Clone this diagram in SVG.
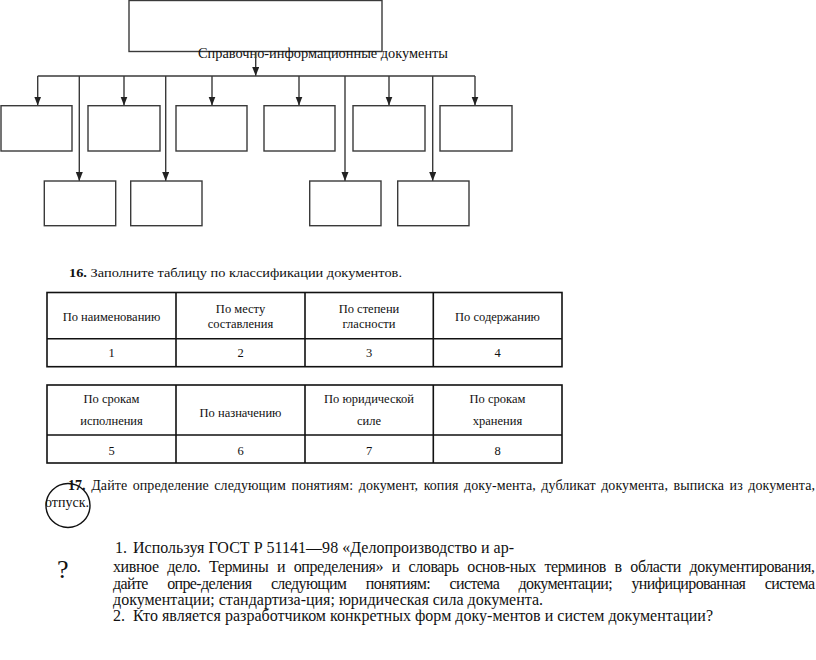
<svg xmlns="http://www.w3.org/2000/svg" width="816" height="660" viewBox="0 0 816 660">
<style>
.bx{fill:none;stroke:#3a3a3a;stroke-width:1.4}
.ln{fill:none;stroke:#3a3a3a;stroke-width:1.4}
.tb{fill:none;stroke:#111;stroke-width:1.6}
.t{font-family:"Liberation Serif","Times New Roman",serif;fill:#111}
.c{font-size:12.5px;text-anchor:middle}
</style>
<defs>
<marker id="ar" markerUnits="userSpaceOnUse" markerWidth="9" markerHeight="8" refX="9" refY="3.5" orient="auto">
<path d="M0,0 L9,3.5 L0,7 z" fill="#222"/>
</marker>
</defs>
<rect width="816" height="660" fill="#fff"/>
<g id="root">
<rect class="bx" x="129" y="0.5" width="253" height="51"/>
<text class="t" x="198" y="58" font-size="14.5" textLength="250" lengthAdjust="spacingAndGlyphs">Справочно-информационные документы</text>
</g>
<g id="connectors">
<path class="ln" d="M255.7,51 V76" marker-end="url(#ar)"/>
<path class="ln" d="M37.7,76 H475"/>
<path class="ln" d="M37.7,76 V105.5" marker-end="url(#ar)"/>
<path class="ln" d="M124,76 V105.5" marker-end="url(#ar)"/>
<path class="ln" d="M212,76 V105.5" marker-end="url(#ar)"/>
<path class="ln" d="M299,76 V105.5" marker-end="url(#ar)"/>
<path class="ln" d="M389,76 V105.5" marker-end="url(#ar)"/>
<path class="ln" d="M475,76 V105.5" marker-end="url(#ar)"/>
<path class="ln" d="M79.3,76 V181" marker-end="url(#ar)"/>
<path class="ln" d="M165.7,76 V181" marker-end="url(#ar)"/>
<path class="ln" d="M345,76 V181" marker-end="url(#ar)"/>
<path class="ln" d="M432.7,76 V181" marker-end="url(#ar)"/>
</g>
<g id="n1"><rect class="bx" x="1" y="105.7" width="71" height="45.3"/></g>
<g id="n2"><rect class="bx" x="88" y="105.7" width="72" height="45.3"/></g>
<g id="n3"><rect class="bx" x="176" y="105.7" width="71" height="45.3"/></g>
<g id="n4"><rect class="bx" x="264" y="105.7" width="71" height="45.3"/></g>
<g id="n5"><rect class="bx" x="353" y="105.7" width="72" height="45.3"/></g>
<g id="n6"><rect class="bx" x="440" y="105.7" width="72" height="45.3"/></g>
<g id="n7"><rect class="bx" x="44.3" y="181" width="71.4" height="44.7"/></g>
<g id="n8"><rect class="bx" x="130.7" y="181" width="71.3" height="44.7"/></g>
<g id="n9"><rect class="bx" x="309.7" y="181" width="71.3" height="44.7"/></g>
<g id="n10"><rect class="bx" x="397.7" y="181" width="71.3" height="44.7"/></g>

<text class="t" x="69" y="277" font-size="13.5" textLength="333" lengthAdjust="spacingAndGlyphs"><tspan font-weight="bold">16.</tspan> Заполните таблицу по классификации документов.</text>

<g id="table1">
<rect class="tb" x="47" y="292.5" width="515" height="74.2"/>
<path class="tb" d="M47,338.7 H562 M176,292.5 V366.7 M305,292.5 V366.7 M433.3,292.5 V366.7"/>
<text class="t c" x="111.5" y="321">По наименованию</text>
<text class="t c" x="240.5" y="313">По месту</text>
<text class="t c" x="240.5" y="328">составления</text>
<text class="t c" x="369" y="313">По степени</text>
<text class="t c" x="369" y="328">гласности</text>
<text class="t c" x="497.5" y="321">По содержанию</text>
<text class="t c" x="111.5" y="357">1</text>
<text class="t c" x="240.5" y="357">2</text>
<text class="t c" x="369" y="357">3</text>
<text class="t c" x="497.5" y="357">4</text>
</g>

<g id="table2">
<rect class="tb" x="47" y="385" width="515" height="78"/>
<path class="tb" d="M47,435 H562 M176,385 V463 M305,385 V463 M433.3,385 V463"/>
<text class="t c" x="111.5" y="403">По срокам</text>
<text class="t c" x="111.5" y="425">исполнения</text>
<text class="t c" x="240.5" y="417">По назначению</text>
<text class="t c" x="369" y="403">По юридической</text>
<text class="t c" x="369" y="425">силе</text>
<text class="t c" x="497.5" y="403">По срокам</text>
<text class="t c" x="497.5" y="425">хранения</text>
<text class="t c" x="111.5" y="455">5</text>
<text class="t c" x="240.5" y="455">6</text>
<text class="t c" x="369" y="455">7</text>
<text class="t c" x="497.5" y="455">8</text>
</g>

<g id="q17">
<text class="t" x="68" y="490" font-size="14" word-spacing="2" textLength="747" lengthAdjust="spacing"><tspan font-weight="bold">17.</tspan> Дайте определение следующим понятиям: документ, копия доку-мента, дубликат документа, выписка из документа,</text>
<text class="t" x="45" y="507" font-size="14">отпуск.</text>
<circle cx="68" cy="505.5" r="22" fill="none" stroke="#111" stroke-width="1.4"/>
</g>

<g id="q18">
<text class="t" x="57" y="578" font-size="26">?</text>
<text class="t" x="115" y="553" font-size="16">1.</text>
<text class="t" x="133" y="553" font-size="16" textLength="381" lengthAdjust="spacing">Используя ГОСТ Р 51141—98 «Делопроизводство и ар-</text>
<text class="t" x="113" y="572" font-size="16" word-spacing="5" textLength="702" lengthAdjust="spacing">хивное дело. Термины и определения» и словарь основ-ных терминов в области документирования,</text>
<text class="t" x="113" y="589" font-size="16" word-spacing="16" textLength="702" lengthAdjust="spacing">дайте опре-деления следующим понятиям: система документации; унифицированная система</text>
<text class="t" x="113" y="605" font-size="16">документации; стандартиза-ция; юридическая сила документа.</text>
<text class="t" x="113" y="621" font-size="16">2.</text>
<text class="t" x="133" y="621" font-size="16" textLength="580" lengthAdjust="spacing">Кто является разработчиком конкретных форм доку-ментов и систем документации?</text>
</g>
</svg>
